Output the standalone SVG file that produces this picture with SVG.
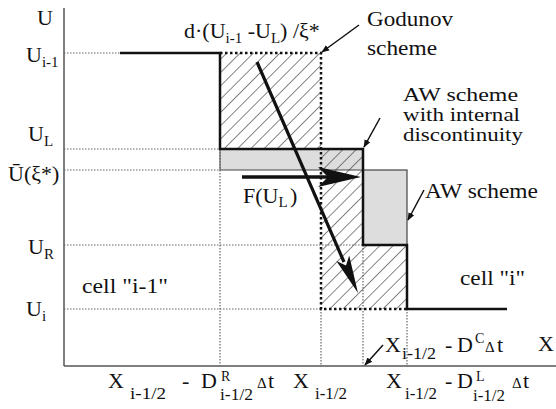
<svg xmlns="http://www.w3.org/2000/svg" width="556" height="409" viewBox="0 0 556 409">
<style>
text{font-family:"Liberation Serif","Times New Roman",serif;font-size:22px;fill:#111}
.sub{font-size:15px}
.s17{font-size:17px}
.sup{font-size:14px}
.d{font-size:15px}
.aw{font-size:19px}
.cell{font-size:20px}
.thin{stroke:#666;stroke-width:1.2;stroke-dasharray:1.5 1.5;fill:none}
.thick{stroke:#111;stroke-width:2.5;stroke-dasharray:2.5 2.5;fill:none}
.step{stroke:#111;stroke-width:2.5;fill:none}
.ptr{stroke:#111;stroke-width:1.5;fill:none;marker-end:url(#ah)}
</style>
<defs>
<pattern id="hatch" patternUnits="userSpaceOnUse" width="9.4" height="9.4" patternTransform="rotate(45)">
<line x1="0" y1="0" x2="0" y2="9.4" stroke="#222" stroke-width="1.1"/>
</pattern>
<marker id="ah" viewBox="0 0 10 10" refX="9" refY="5" markerWidth="8" markerHeight="8" markerUnits="userSpaceOnUse" orient="auto">
<path d="M0,1 L10,5 L0,9 Z" fill="#111"/>
</marker>
</defs>
<g id="axes">
<line x1="64" y1="8" x2="64" y2="366" stroke="#555" stroke-width="1.5"/>
<line x1="64" y1="366" x2="556" y2="366" stroke="#555" stroke-width="1.5"/>
<text x="37" y="25">U</text>
<text x="538" y="351">X</text>
</g>
<g id="fills">
<rect x="220" y="149" width="143" height="21" fill="#ddd" stroke="#444" stroke-width="1"/>
<rect x="363" y="170" width="44" height="75" fill="#ddd" stroke="#444" stroke-width="1.2"/>
<rect x="220" y="53" width="101" height="96" fill="url(#hatch)"/>
<rect x="321" y="149" width="42" height="160" fill="url(#hatch)"/>
<rect x="363" y="245" width="44" height="64" fill="url(#hatch)"/>
</g>
<g id="guides">
<line class="thin" x1="64" y1="53" x2="120" y2="53"/>
<line class="thin" x1="64" y1="149" x2="220" y2="149"/>
<line class="thin" x1="64" y1="170" x2="220" y2="170"/>
<line class="thin" x1="64" y1="245" x2="363" y2="245"/>
<line class="thin" x1="64" y1="309" x2="321" y2="309"/>
<line class="thin" x1="220" y1="149" x2="220" y2="366"/>
<line class="thin" x1="321" y1="309" x2="321" y2="366"/>
<line class="thin" x1="363" y1="245" x2="363" y2="366"/>
<line class="thin" x1="407" y1="309" x2="407" y2="366"/>
<path class="thick" d="M220,53 H321 V309 H407"/>
</g>
<g id="step">
<path class="step" d="M120,53 H220 V149 H363 V245 H407 V309 H507"/>
</g>
<g id="connectors">
<line x1="257" y1="62" x2="344" y2="262" stroke="#111" stroke-width="3.2"/>
<path d="M358,293 L336.4,261 L346,265.5 L349.2,255.4 Z" fill="#111"/>
<line x1="242" y1="177" x2="345" y2="177" stroke="#111" stroke-width="3.5"/>
<path d="M361,177 L318,167 L328,177 L318,187 Z" fill="#111"/>
<line class="ptr" x1="359" y1="25" x2="322" y2="52"/>
<line class="ptr" x1="380" y1="118" x2="364" y2="147"/>
<line class="ptr" x1="424" y1="190" x2="408" y2="220"/>
<line class="ptr" x1="383" y1="345" x2="365" y2="365"/>
</g>
<g id="labels">
<text x="26" y="62">U<tspan class="sub" dy="5">i-1</tspan></text>
<text x="28" y="141">U<tspan class="sub" dy="5">L</tspan></text>
<text x="8" y="181">Ū(ξ*)</text>
<text x="28" y="254">U<tspan class="sub" dy="5">R</tspan></text>
<text x="26" y="316">U<tspan class="sub" dy="5">i</tspan></text>
<text x="184" y="38">d·(U<tspan class="sub" dy="5">i-1</tspan><tspan dy="-5"> -U</tspan><tspan class="sub" dy="5">L</tspan><tspan dy="-5">) /ξ*</tspan></text>
<text x="367" y="26" textLength="86" lengthAdjust="spacingAndGlyphs">Godunov</text>
<text x="367" y="55" textLength="70" lengthAdjust="spacingAndGlyphs">scheme</text>
<text class="aw" x="403" y="101" textLength="115" lengthAdjust="spacingAndGlyphs">AW scheme</text>
<text class="aw" x="403" y="121" textLength="117" lengthAdjust="spacingAndGlyphs">with internal</text>
<text class="aw" x="403" y="141" textLength="120" lengthAdjust="spacingAndGlyphs">discontinuity</text>
<text class="cell" x="425" y="198" textLength="113" lengthAdjust="spacingAndGlyphs">AW scheme</text>
<text x="243" y="203">F(U<tspan class="sub" dy="4">L</tspan></text>
<text x="290" y="203">)</text>
<text class="cell" x="82" y="293" textLength="86" lengthAdjust="spacingAndGlyphs">cell "i-1"</text>
<text class="cell" x="460" y="285" textLength="65" lengthAdjust="spacingAndGlyphs">cell "i"</text>
<text x="385" y="352">X</text>
<text class="s17" x="402" y="359" textLength="34" lengthAdjust="spacingAndGlyphs">i-1/2</text>
<text x="445" y="352">-</text>
<text x="457" y="352">D</text>
<text class="sup" x="475" y="343">C</text>
<text class="d" x="485" y="352">Δ</text>
<text x="497" y="352">t</text>
<text x="108" y="388">X</text>
<text class="s17" x="130" y="399" textLength="36" lengthAdjust="spacingAndGlyphs">i-1/2</text>
<text x="182" y="388">-</text>
<text x="201" y="388">D</text>
<text class="sup" x="221" y="381">R</text>
<text class="s17" x="220" y="400" textLength="33" lengthAdjust="spacingAndGlyphs">i-1/2</text>
<text class="d" x="257" y="388">Δ</text>
<text x="268" y="388">t</text>
<text x="293" y="388">X</text>
<text class="s17" x="315" y="399" textLength="32" lengthAdjust="spacingAndGlyphs">i-1/2</text>
<text x="386" y="388">X</text>
<text class="s17" x="405" y="399" textLength="32" lengthAdjust="spacingAndGlyphs">i-1/2</text>
<text x="445" y="388">-</text>
<text x="457" y="388">D</text>
<text class="sup" x="476" y="381">L</text>
<text class="s17" x="473" y="401" textLength="32" lengthAdjust="spacingAndGlyphs">i-1/2</text>
<text class="d" x="512" y="388">Δ</text>
<text x="523" y="388">t</text>
</g>
</svg>
